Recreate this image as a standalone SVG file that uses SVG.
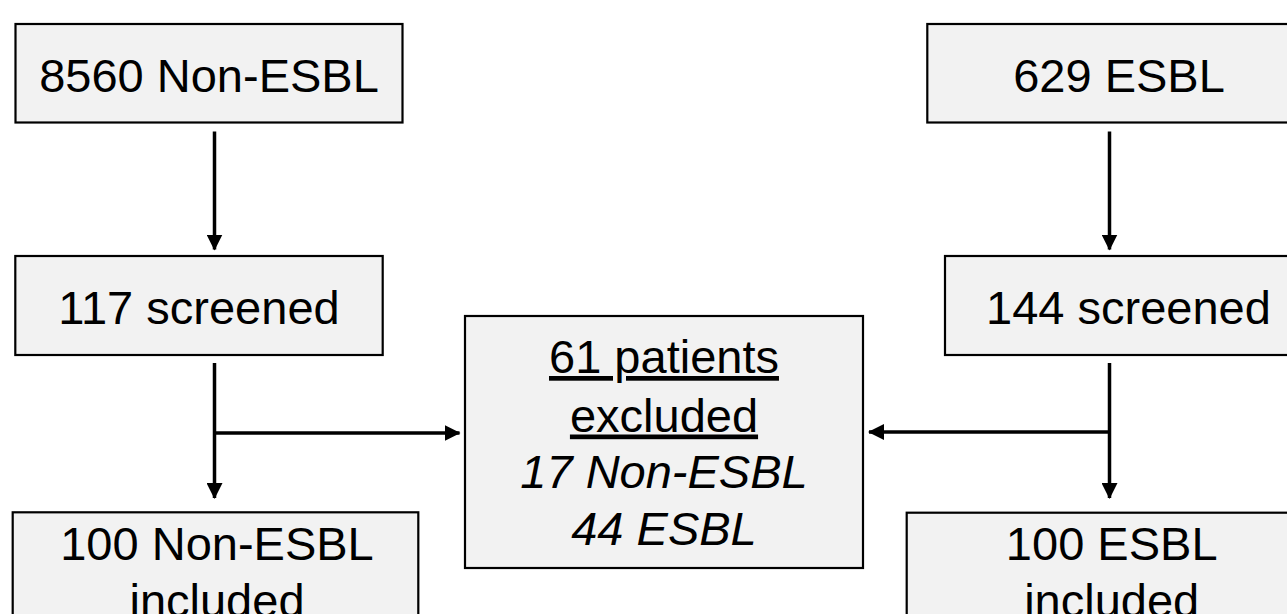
<svg xmlns="http://www.w3.org/2000/svg" width="1287" height="614" viewBox="0 0 1287 614">
<style>
.box{fill:#f2f2f2;stroke:#000;stroke-width:2.2}
.t{font-family:"Liberation Sans",Arial,sans-serif;font-size:47px;fill:#000;text-anchor:middle}
.i{font-style:italic}
.u{text-decoration:underline}
.c{stroke:#000;stroke-width:3.5;fill:none;marker-end:url(#ah)}
</style>
<defs>
<marker id="ah" markerUnits="userSpaceOnUse" markerWidth="16" markerHeight="16" refX="15" refY="8" orient="auto" viewBox="0 0 16 16">
<path d="M0,0 L16,8 L0,16 z" fill="#000"/>
</marker>
</defs>
<rect width="1287" height="614" fill="#fff"/>
<g id="connectors">
<line class="c" x1="214.5" y1="131.5" x2="214.5" y2="249.5"/>
<line class="c" x1="1109.5" y1="131.5" x2="1109.5" y2="249.5"/>
<line class="c" x1="214.5" y1="363" x2="214.5" y2="498"/>
<line class="c" x1="214.5" y1="433" x2="459.5" y2="433"/>
<line class="c" x1="1109.5" y1="363" x2="1109.5" y2="498"/>
<line class="c" x1="1109.5" y1="432" x2="869" y2="432"/>
</g>
<g id="n-8560">
<rect class="box" x="15.5" y="24" width="387" height="98.5"/>
<text class="t" x="209" y="92">8560 Non-ESBL</text>
</g>
<g id="n-629">
<rect class="box" x="927.3" y="24" width="384" height="98.5"/>
<text class="t" x="1119" y="92">629 ESBL</text>
</g>
<g id="n-117">
<rect class="box" x="15.3" y="256" width="367.4" height="99"/>
<text class="t" x="199" y="324">117 screened</text>
</g>
<g id="n-144">
<rect class="box" x="945" y="256" width="367" height="99"/>
<text class="t" x="1128.5" y="324">144 screened</text>
</g>
<g id="n-excluded">
<rect class="box" x="465" y="316" width="398" height="252"/>
<text class="t u" x="664" y="373">61 patients</text>
<text class="t u" x="664" y="431.5">excluded</text>
<text class="t i" x="664" y="488.3">17 Non-ESBL</text>
<text class="t i" x="664" y="545">44 ESBL</text>
</g>
<g id="n-100non">
<rect class="box" x="12.7" y="512.3" width="405.6" height="130"/>
<text class="t" x="217" y="559.5">100 Non-ESBL</text>
<text class="t" x="217" y="617">included</text>
</g>
<g id="n-100esbl">
<rect class="box" x="906.7" y="512.7" width="410" height="130"/>
<text class="t" x="1111.7" y="560">100 ESBL</text>
<text class="t" x="1111.7" y="617">included</text>
</g>
</svg>
